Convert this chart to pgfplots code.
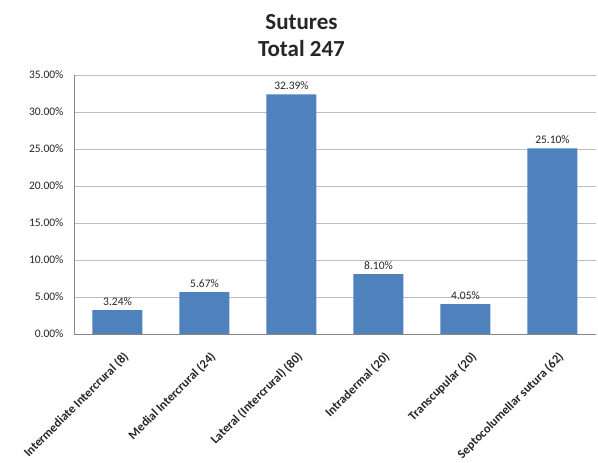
\documentclass[border=0pt]{standalone}
\usepackage{fontspec}
\setmainfont{Carlito}
\usepackage{pgfplots}
\pgfplotsset{compat=1.18}
\definecolor{barblue}{HTML}{4F81BD}
\definecolor{gridgray}{HTML}{BEBEBE}
\definecolor{axisgray}{HTML}{868686}
\begin{document}
\begin{tikzpicture}
\path[use as bounding box] (-74pt,-129pt) rectangle (524pt,334pt);
\begin{axis}[
  at={(0,0)}, anchor=south west,
  scale only axis,
  width=522pt, height=259pt,
  ymin=0, ymax=35,
  ytick={0,5,...,35},
  xmin=-0.5, xmax=5.5,
  xtick=data,
  xticklabels={Intermediate Intercrural (8),Medial Intercrural (24),Lateral (Intercrural) (80),Intradermal (20),Transcupular (20),Septocolumellar sutura (62)},
  axis x line*=bottom, axis y line*=left,
  axis line style={axisgray, -},
  ymajorgrids, major grid style={gridgray},
  major tick length=0pt,
  /pgf/number format/assume math mode=true,
  yticklabel={\pgfmathprintnumber[fixed,fixed zerofill,precision=2]{\tick}\%},
  yticklabel style={font=\fontsize{11.5}{13}\selectfont, text=black!85, anchor=east, xshift=-7pt},
  x tick label style={xshift=5pt, yshift=-12pt, rotate=45, anchor=north east, font=\bfseries\fontsize{12.5}{14}\selectfont, text=black!85},
  ybar, bar width=50pt,
  nodes near coords={\pgfmathprintnumber[fixed,fixed zerofill,precision=2]{\pgfplotspointmeta}\%},
  nodes near coords style={font=\fontsize{11.5}{13}\selectfont, text=black!85, inner sep=1pt, yshift=3.5pt},
]
\addplot[fill=barblue, draw=none] coordinates {
  (0,3.24) (1,5.67) (2,32.39) (3,8.10) (4,4.05) (5,25.10)
};
\end{axis}
\node[font=\bfseries\fontsize{23}{28}\selectfont, text=black!85, anchor=base] at (227.5pt,304pt) {Sutures};
\node[font=\bfseries\fontsize{23}{28}\selectfont, text=black!85, anchor=base] at (227.5pt,277pt) {Total 247};
\end{tikzpicture}
\end{document}
